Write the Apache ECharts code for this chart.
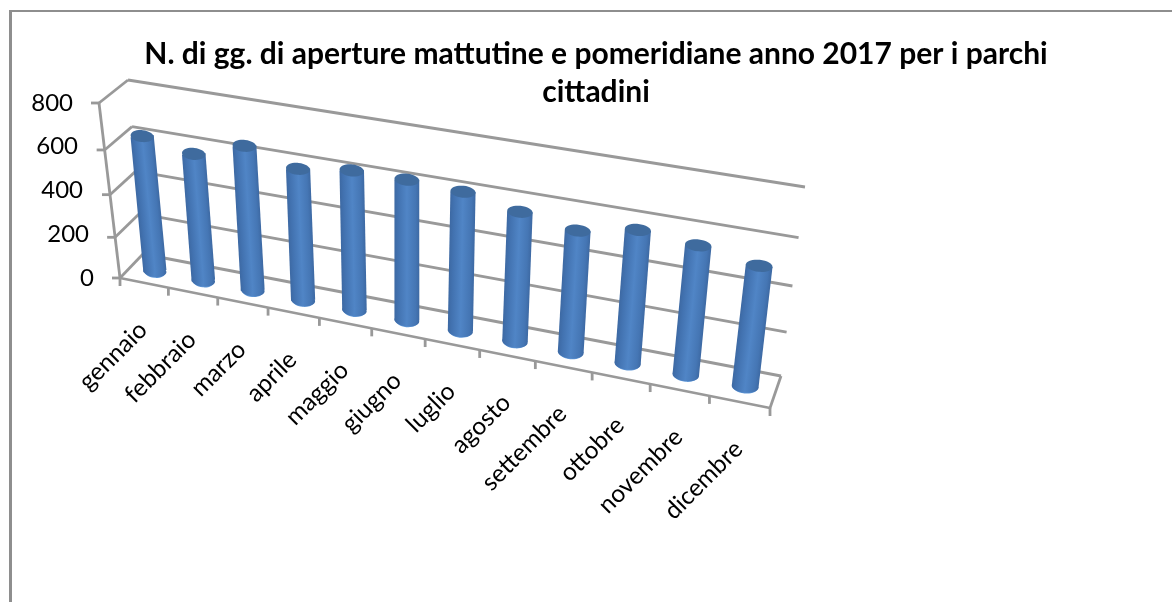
<!DOCTYPE html>
<html><head><meta charset="utf-8">
<style>html,body{margin:0;padding:0;background:#fff}#c{width:1172px;height:602px}</style>
<script src="https://cdn.jsdelivr.net/npm/echarts@6/dist/echarts.min.js"></script>
</head><body><div id="c"></div>
<script>
const titleText = 'N. di gg. di aperture mattutine e pomeridiane anno 2017 per i parchi\ncittadini';
const categories = ['gennaio','febbraio','marzo','aprile','maggio','giugno','luglio','agosto','settembre','ottobre','novembre','dicembre'];
const values = [630,590,662,602,634,634,623,580,543,588,567,527];
const yTicks = [0,200,400,600,800];
const yMax = 800;

// Perspective frame of the 3D box (pixel corners of the walls and floor)
const F0A=[120,278],F0B=[770,408],B0A=[143,254],B0B=[781,376],B1A=[128,80],B1B=[805,187],F1A=[99,103],F1B=[794,216];
const lerp=(a,b,t)=>[a[0]+(b[0]-a[0])*t,a[1]+(b[1]-a[1])*t];
const warpS=u=>u/(u+(1-u)*1.13), warpV=v=>v/(v+(1-v)*1.1);
// u: 0..1 along categories, d: 0 front .. 1 back, v: 0..1 of the value axis
function project(u,d,v){
  const s=warpS(u), h=warpV(v);
  const bot=lerp(lerp(F0A,F0B,s),lerp(B0A,B0B,s),d);
  const top=lerp(lerp(F1A,F1B,s),lerp(B1A,B1B,s),d);
  return lerp(bot,top,h);
}
const GRAY='#8e8e8e', AXIS='#999999';
const seg=(p,q,w)=>({type:'line',shape:{x1:p[0],y1:p[1],x2:q[0],y2:q[1]},style:{stroke:AXIS,lineWidth:w||2.8,fill:null},silent:true});
const toUV=(pt,cs)=>[(pt[0]-cs.x)/cs.width,(cs.y+cs.height-pt[1])/cs.height];

function renderFrame(params,api){
  const cs=params.coordSys, kids=[];
  const n=categories.length;
  yTicks.forEach(t=>{
    const v=toUV(api.coord([0,t]),cs)[1];
    kids.push(seg(project(0,1,v),project(1,1,v)));
    kids.push(seg(project(0,0,v),project(0,1,v)));
    const f=project(0,0,v); kids.push(seg([f[0]-8,f[1]],f));
  });
  kids.push(seg(project(0,0,0),project(0,0,1)));
  kids.push(seg(project(0,0,0),project(1,0,0)));
  kids.push(seg(project(1,0,0),project(1,1,0)));
  for(let i=0;i<=n;i++){const p=project(i/n,0,0);kids.push(seg(p,[p[0],p[1]+8]));}
  return {type:'group',children:kids};
}
function renderCylinder(params,api){
  const cs=params.coordSys, i=api.value(0);
  const uv=toUV(api.coord([i,api.value(1)]),cs), u=uv[0], v=uv[1], d=0.48;
  const a=project(u,d,v), b=project(u,d,0);
  const dx=b[0]-a[0], dy=b[1]-a[1], len=Math.hypot(dx,dy), r=Math.atan2(dx,dy);
  const rx=11.5+2*u, ry=6;
  const tilt=-0.1-r;
  const body=new echarts.graphic.LinearGradient(0,0,1,0,[
    {offset:0,color:'#3d69a3'},{offset:.15,color:'#4272b0'},{offset:.5,color:'#5085c6'},{offset:.85,color:'#4576b4'},{offset:1,color:'#3d69a3'}]);
  return {type:'group',x:a[0],y:a[1],rotation:r,children:[
    {type:'ellipse',shape:{cx:0,cy:len+.7,rx:rx-1,ry:ry},style:{fill:'#6098d8'},rotation:tilt,originX:0,originY:len},
    {type:'ellipse',shape:{cx:0,cy:len,rx:rx,ry:ry},style:{fill:body},rotation:tilt,originX:0,originY:len},
    {type:'rect',shape:{x:-rx,y:0,width:2*rx,height:len},style:{fill:body}},
    {type:'ellipse',shape:{cx:0,cy:0,rx:rx,ry:ry},style:{fill:'#3f6b9e'},rotation:tilt}
  ]};
}
function renderCatLabel(params,api){
  const cs=params.coordSys, i=api.value(0);
  const u=toUV(api.coord([i,0]),cs)[0], p=project(u,0,0);
  return {type:'text',x:p[0]-1,y:p[1]+43,rotation:Math.PI/4,
    style:{text:categories[i],align:'right',verticalAlign:'middle',fontFamily:'Lato',fontSize:24.5,fill:'#000'},silent:true};
}
const pad={0:0,200:5,400:11,600:16,800:21};
const rich={};
yTicks.forEach(t=>{rich['t'+t]={fontFamily:'Lato',fontSize:24,color:'#000',padding:[0,pad[t],0,0]};});

const chart=echarts.init(document.getElementById('c'),null,{renderer:'canvas'});
chart.setOption({
  animation:false,
  backgroundColor:'#fff',
  title:{text:titleText,left:591,top:30,textAlign:'center',
    textStyle:{fontFamily:'Lato',fontWeight:'bold',fontSize:30,lineHeight:38,color:'#000'}},
  graphic:[
    {type:'rect',shape:{x:9,y:10,width:1163,height:2},style:{fill:GRAY},silent:true},
    {type:'rect',shape:{x:9,y:10,width:3,height:592},style:{fill:GRAY},silent:true}
  ],
  grid:{left:100,top:103,width:670,height:175},
  xAxis:{type:'category',data:categories,show:false},
  yAxis:{type:'value',min:0,max:yMax,interval:200,axisLine:{show:false},axisTick:{show:false},splitLine:{show:false},
    axisLabel:{margin:6,formatter:v=>'{t'+v+'|'+v+'}',rich}},
  series:[
    {type:'custom',name:'assi',renderItem:renderFrame,data:[[0,0]],silent:true,clip:false,z:1},
    {type:'custom',name:'etichette',renderItem:renderCatLabel,data:categories.map((c,i)=>[i,0]),silent:true,clip:false,z:2},
    {type:'custom',name:'giorni',renderItem:renderCylinder,data:values.map((v,i)=>[i,v]),encode:{x:0,y:1},clip:false,z:3}
  ]
});
</script></body></html>
